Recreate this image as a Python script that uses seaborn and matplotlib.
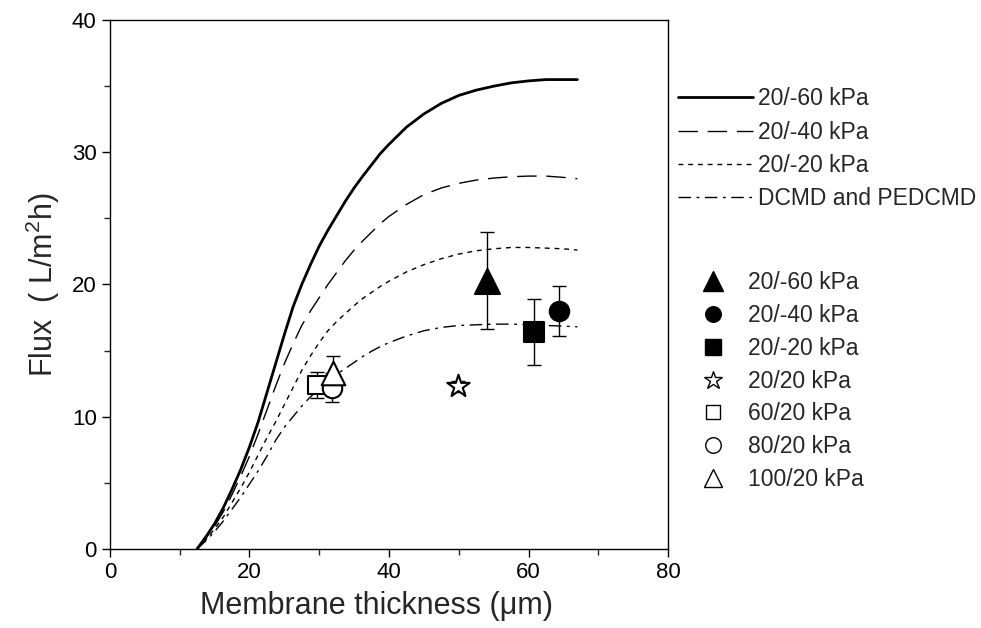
import matplotlib
matplotlib.use("Agg")
import matplotlib.pyplot as plt
import seaborn as sns
from matplotlib.lines import Line2D

# ---- model curves (membrane thickness vs flux) ----
thick = [12.5, 13.75, 15, 16.25, 17.5, 18.75, 20, 21.25, 22.5, 23.75, 25, 26.25, 27.5,
         28.75, 30, 31.25, 32.5, 33.75, 35, 36.25, 37.5, 38.75, 40, 42.5, 45, 47.5, 50,
         52.5, 55, 57.5, 60, 62.5, 65, 67]
flux_60 = [0, 0.9, 1.9, 3.1, 4.5, 6.0, 7.7, 9.6, 11.8, 14.0, 16.2, 18.3, 20.0,
           21.5, 22.9, 24.1, 25.2, 26.3, 27.3, 28.2, 29.05, 29.9, 30.6, 31.9, 32.9, 33.7, 34.3,
           34.7, 35.0, 35.25, 35.4, 35.5, 35.5, 35.5]
flux_40 = [0, 0.8, 1.7, 2.8, 4.1, 5.5, 7.0, 8.7, 10.5, 12.3, 14.0, 15.5, 16.9,
           18.0, 19.0, 20.0, 20.9, 21.8, 22.6, 23.3, 23.95, 24.6, 25.15, 26.05, 26.8, 27.3, 27.65,
           27.9, 28.05, 28.15, 28.2, 28.2, 28.1, 28.0]
flux_20 = [0, 0.7, 1.5, 2.4, 3.5, 4.6, 5.8, 7.1, 8.4, 9.6, 10.9, 12.2, 13.5,
           14.6, 15.6, 16.5, 17.2, 17.8, 18.4, 18.95, 19.4, 19.85, 20.25, 20.95, 21.5, 21.95, 22.3,
           22.55, 22.7, 22.8, 22.8, 22.75, 22.7, 22.6]
flux_dc = [0, 0.6, 1.3, 2.1, 3.0, 3.9, 4.9, 5.9, 7.0, 8.2, 9.2, 10.0, 10.8,
           11.5, 12.1, 12.7, 13.2, 13.65, 14.1, 14.55, 14.95, 15.3, 15.6, 16.1, 16.5, 16.75, 16.9,
           16.95, 17.0, 17.0, 16.95, 16.9, 16.85, 16.8]
curve_labels = ["20/-60 kPa", "20/-40 kPa", "20/-20 kPa", "DCMD and PEDCMD"]

# ---- experimental points ----
pt_labels = ["20/-60 kPa", "20/-40 kPa", "20/-20 kPa", "20/20 kPa", "60/20 kPa", "80/20 kPa", "100/20 kPa"]
pt_x = [54.0, 64.3, 60.8, 49.9, 29.7, 31.9, 32.0]
pt_y = [20.3, 18.0, 16.4, 12.3, 12.4, 12.2, 13.3]
pt_err = [3.7, 1.9, 2.5, 0.4, 1.0, 1.1, 1.3]

sns.set_style("ticks")
plt.rcParams['font.family'] = ['Liberation Sans', 'DejaVu Sans']
plt.rcParams['mathtext.fontset'] = 'custom'
plt.rcParams['mathtext.rm'] = 'Liberation Sans'
plt.rcParams['mathtext.it'] = 'Liberation Sans'

fig = plt.figure(figsize=(9.81, 6.28), dpi=100)
ax = fig.add_axes([0.112, 0.126, 0.569, 0.842])

styles = [
    dict(linestyle='-', linewidth=2.0),
    dict(linestyle=(0, (14, 7)), linewidth=1.0),
    dict(linestyle=(0, (3.5, 3.5)), linewidth=1.0),
    dict(linestyle=(0, (9, 4, 2, 4)), linewidth=1.0),
]
line_handles = []
for ys, lab, st in zip([flux_60, flux_40, flux_20, flux_dc], curve_labels, styles):
    sns.lineplot(x=thick, y=ys, ax=ax, color='black', **st)
    line_handles.append(Line2D([], [], color='black', **st))

markers = ['^', 'o', 's', '*', 's', 'o', '^']
filled = [True, True, True, False, False, False, False]
msizes = [18, 14, 14, 17, 13, 14, 17]
pt_handles = []
for x, y, e, m, f, ms, lab in zip(pt_x, pt_y, pt_err, markers, filled, msizes, pt_labels):
    ax.errorbar(x, y, yerr=e, fmt='none', ecolor='black', elinewidth=1.0,
                capsize=5, capthick=1.0, zorder=3)
    sns.scatterplot(x=[x], y=[y], ax=ax, marker=m, s=ms ** 2,
                    color='black' if f else 'white', edgecolor='black',
                    linewidth=1.5, zorder=4, legend=False)
    pt_handles.append(Line2D([], [], linestyle='none', marker=m,
                             markersize=ms * 0.8,
                             markerfacecolor='black' if f else 'white',
                             markeredgecolor='black', markeredgewidth=1.0))

ax.set_xlim(0, 80)
ax.set_ylim(0, 40)
ax.set_xticks([0, 20, 40, 60, 80])
ax.set_yticks([0, 10, 20, 30, 40])
ax.set_xticks([10, 30, 50, 70], minor=True)
ax.set_yticks([5, 15, 25, 35], minor=True)
ax.tick_params(which='major', direction='out', length=6, width=1, labelsize=16, colors='black')
ax.tick_params(which='minor', direction='out', length=4, width=1)
for sp in ax.spines.values():
    sp.set_visible(True)
    sp.set_linewidth(1.0)
    sp.set_color('black')

ax.set_xlabel("Membrane thickness (μm)", fontsize=22, labelpad=6)
ax.xaxis.set_label_coords(0.478, -0.08)
ax.set_ylabel("Flux  ( L/m$^2$h)", fontsize=22, labelpad=7)

leg1 = fig.legend(line_handles, curve_labels, loc='upper left',
                  bbox_to_anchor=(0.691, 0.861), frameon=False, fontsize=16.5,
                  handlelength=3.3, handletextpad=0.2, labelspacing=0.45,
                  borderaxespad=0, borderpad=0)
leg2 = fig.legend(pt_handles, pt_labels, loc='upper left',
                  bbox_to_anchor=(0.716, 0.5685), frameon=False, fontsize=16.5,
                  handlelength=0.9, handletextpad=1.1, labelspacing=0.43,
                  borderaxespad=0, borderpad=0)

fig.savefig("out.png", dpi=100)
